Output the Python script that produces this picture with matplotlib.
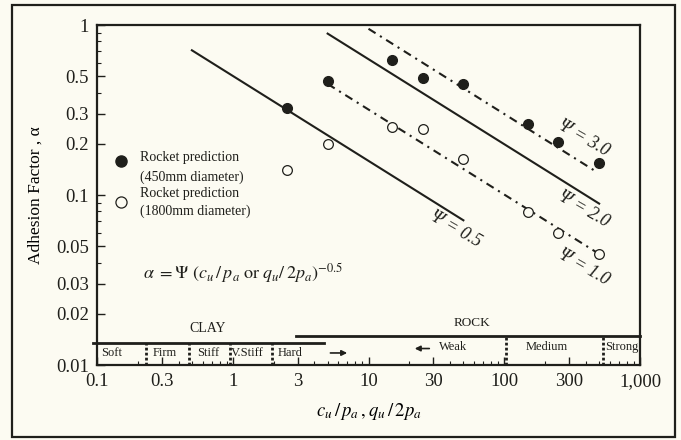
"""
Adhesion factor vs normalised strength, rocket predictions
"""

import matplotlib.pyplot as plt
from matplotlib.patches import Rectangle
from matplotlib.ticker import FixedLocator, FixedFormatter, NullFormatter

# rocket predictions
x_pts = [2.5, 5, 15, 25, 50, 150, 250, 500]
alpha_450 = [0.325, 0.47, 0.62, 0.49, 0.45, 0.26, 0.205, 0.155]
alpha_1800 = [0.14, 0.20, 0.25, 0.245, 0.163, 0.079, 0.06, 0.045]

# design lines, end points
psi_labels = ["0.5", "2.0", "3.0", "1.0"]
psi_x = [[0.5, 50], [5, 500], [10, 470], [5, 500]]
psi_alpha = [[0.71, 0.071], [0.89, 0.089], [0.95, 0.138], [0.45, 0.045]]

# strength zones along the bottom
clay_names = ["Soft", "Firm", "Stiff", "V.Stiff", "Hard"]
clay_bounds = [0.23, 0.48, 0.96, 1.95]
rock_names = ["Weak", "Medium", "Strong"]
rock_bounds = [103, 530]

x_ticks = [0.1, 0.3, 1, 3, 10, 30, 100, 300, 1000]
x_ticklabels = ["0.1", "0.3", "1", "3", "10", "30", "100", "300", "1,000"]
x_minor = [0.2, 0.4, 0.5, 0.6, 0.7, 0.8, 0.9, 2, 4, 5, 6, 7, 8, 9,
           20, 40, 50, 60, 70, 80, 90, 200, 400, 500, 600, 700, 800, 900]
y_ticks = [0.01, 0.02, 0.03, 0.05, 0.1, 0.2, 0.3, 0.5, 1]
y_ticklabels = ["0.01", "0.02", "0.03", "0.05", "0.1", "0.2", "0.3", "0.5", "1"]
y_minor = [0.04, 0.06, 0.07, 0.08, 0.09, 0.4, 0.6, 0.7, 0.8, 0.9]

INK = "#1f1f1b"
PAPER = "#fcfbf2"

plt.rcParams["font.family"] = ["Liberation Serif", "DejaVu Serif"]
plt.rcParams["mathtext.fontset"] = "stix"
plt.rcParams["text.color"] = INK

fig = plt.figure(figsize=(6.81, 4.40), dpi=100, facecolor=PAPER)
ax = fig.add_axes([97 / 681, 75 / 440, 543 / 681, 340 / 440])
ax.set_facecolor(PAPER)
ax.set_xscale("log")
ax.set_yscale("log")
ax.set_xlim(0.1, 1000)
ax.set_ylim(0.01, 1)

for s in ax.spines.values():
    s.set_linewidth(1.6)
    s.set_color(INK)

ax.xaxis.set_major_locator(FixedLocator(x_ticks))
ax.xaxis.set_major_formatter(FixedFormatter(x_ticklabels))
ax.xaxis.set_minor_locator(FixedLocator(x_minor))
ax.xaxis.set_minor_formatter(NullFormatter())
ax.yaxis.set_major_locator(FixedLocator(y_ticks))
ax.yaxis.set_major_formatter(FixedFormatter(y_ticklabels))
ax.yaxis.set_minor_locator(FixedLocator(y_minor))
ax.yaxis.set_minor_formatter(NullFormatter())
ax.tick_params(which="both", direction="in", color=INK, labelcolor=INK,
               top=False, right=False)
ax.tick_params(which="major", length=6, width=1.0, labelsize=13.5, pad=6)
ax.tick_params(which="minor", length=3, width=0.8)

# design lines
for lab, xs, ys in zip(psi_labels, psi_x, psi_alpha):
    ls = "-" if lab in ("0.5", "2.0") else (0, (4, 2.5, 1, 2.5))
    ax.plot(xs, ys, color=INK, lw=1.5, linestyle=ls, zorder=2)

ax.plot(x_pts, alpha_450, "o", ms=7, color=INK, zorder=3)
ax.plot(x_pts, alpha_1800, "o", ms=7, mfc=PAPER, mec=INK, mew=0.9, zorder=3)

psi_text = {"3.0": (385, 0.215), "2.0": (385, 0.083),
            "1.0": (385, 0.0375), "0.5": (44, 0.063)}
for lab, (tx, ty) in psi_text.items():
    ax.text(tx, ty, "\u03a8 = " + lab, fontsize=13, style="italic",
            rotation=-30, ha="center", va="center")

# legend
ax.plot([0.044], [0.60], "o", ms=8, color=INK, transform=ax.transAxes,
        clip_on=False)
ax.plot([0.044], [0.479], "o", ms=8, mfc=PAPER, mec=INK, mew=0.9,
        transform=ax.transAxes, clip_on=False)
for ty, txt in [(0.609, "Rocket prediction"), (0.553, "(450mm diameter)"),
                (0.503, "Rocket prediction"), (0.453, "(1800mm diameter)")]:
    ax.text(0.079, ty, txt, fontsize=10, transform=ax.transAxes, va="center")

ax.text(0.085, 0.27,
        r"$\alpha\ = \Psi\ (c_u\,/\,p_a\ \mathrm{or}\ q_u/\,2p_a)^{-0.5}$",
        fontsize=13, transform=ax.transAxes, va="center")

# clay / rock strip
clay_y, rock_y = 0.0135, 0.0148
ax.plot([0.093, 4.7], [clay_y, clay_y], color=INK, lw=2, clip_on=False)
ax.plot([2.93, 1000], [rock_y, rock_y], color=INK, lw=2, clip_on=False)
for b in clay_bounds:
    ax.plot([b, b], [0.01, clay_y], color=INK, lw=2, linestyle=(0, (1, 0.8)))
for b in rock_bounds:
    ax.plot([b, b], [0.01, rock_y], color=INK, lw=2, linestyle=(0, (1, 0.8)))

clay_pos = [0.129, 0.317, 0.658, 1.27, 2.64]
for name, px in zip(clay_names, clay_pos):
    ax.text(px, 0.01177, name, fontsize=9, ha="center", va="center")
rock_pos = [42, 206, 736]
for name, px in zip(rock_names, rock_pos):
    ax.text(px, 0.01276, name, fontsize=9, ha="center", va="center")
ax.text(0.658, 0.0163, "CLAY", fontsize=10, ha="center", va="center")
ax.text(57.8, 0.01766, "ROCK", fontsize=9.5, ha="center", va="center")

arrow = dict(arrowstyle="-|>", color=INK, lw=1.2, mutation_scale=8)
ax.annotate("", xy=(7.3, 0.01177), xytext=(5.0, 0.01177), arrowprops=arrow)
ax.annotate("", xy=(20.9, 0.01250), xytext=(29.4, 0.01250), arrowprops=arrow)

ax.set_xlabel(r"$c_u\,/\,p_a\,,q_u\,/\,2p_a$", fontsize=13.5, labelpad=8)
ax.set_ylabel("Adhesion Factor , \u03b1", fontsize=12.5, labelpad=9)

# outer frame of the figure
fig.add_artist(Rectangle((12 / 681, 3 / 440), 663 / 681, 432 / 440,
                         transform=fig.transFigure, fill=False,
                         lw=1.6, edgecolor=INK))

fig.savefig("out.png", dpi=100, facecolor=PAPER)
